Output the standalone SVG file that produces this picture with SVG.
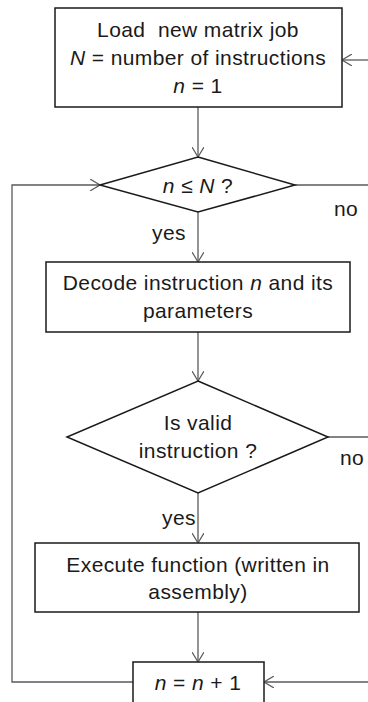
<svg xmlns="http://www.w3.org/2000/svg" width="368" height="702" viewBox="0 0 368 702">
  <style>
    .box { fill: #ffffff; stroke: #1a1a1a; stroke-width: 1.5; }
    .edge { fill: none; stroke: #5a5a5a; stroke-width: 1.3; }
    text { font-family: "Liberation Sans", Arial, sans-serif; font-size: 21px; fill: #1a1a1a; text-anchor: middle; letter-spacing: 0.4px; }
    .lbl { text-anchor: start; }
  </style>
  <defs>
    <!-- open V arrowhead, 10 long by 12 wide -->
    <marker id="arrow" viewBox="0 0 10 12" refX="10" refY="6" markerWidth="10" markerHeight="12" markerUnits="userSpaceOnUse" orient="auto">
      <path d="M0,0 L10,6 L0,12" fill="none" stroke="#5a5a5a" stroke-width="1.2"/>
    </marker>
  </defs>
  <rect width="368" height="702" fill="#ffffff"/>

  <g id="connectors">
    <path class="edge" d="M198,107 V157" marker-end="url(#arrow)"/>
    <path class="edge" d="M198,212 V262" marker-end="url(#arrow)"/>
    <path class="edge" d="M198,332 V381" marker-end="url(#arrow)"/>
    <path class="edge" d="M198,493 V543" marker-end="url(#arrow)"/>
    <path class="edge" d="M198,612 V662" marker-end="url(#arrow)"/>
    <path class="edge" d="M295,185 H368"/>
    <path class="edge" d="M328,437 H368"/>
    <path class="edge" d="M368,60 H342" marker-end="url(#arrow)"/>
    <path class="edge" d="M368,682 H264" marker-end="url(#arrow)"/>
    <path class="edge" d="M133,682 H12 V185 H100" marker-end="url(#arrow)"/>
    <text class="lbl" x="152" y="240">yes</text>
    <text class="lbl" x="334" y="216">no</text>
    <text class="lbl" x="340" y="465">no</text>
    <text class="lbl" x="162" y="525">yes</text>
  </g>

  <g id="load-job">
    <rect class="box" x="55" y="8" width="287" height="99"/>
    <text x="198" y="37">Load&#160; new matrix job</text>
    <text x="198" y="65"><tspan font-style="italic">N</tspan> = number of instructions</text>
    <text x="198" y="93"><tspan font-style="italic">n</tspan> = 1</text>
  </g>

  <g id="check-count">
    <polygon class="box" points="198,157 295,185 198,212 100,185"/>
    <text x="198" y="193"><tspan font-style="italic">n</tspan> ≤ <tspan font-style="italic">N</tspan> ?</text>
  </g>

  <g id="decode">
    <rect class="box" x="46" y="262" width="304" height="70"/>
    <text x="198" y="290">Decode instruction <tspan font-style="italic">n</tspan> and its</text>
    <text x="198" y="318">parameters</text>
  </g>

  <g id="check-valid">
    <polygon class="box" points="198,381 328,437 198,493 67,437"/>
    <text x="198" y="430">Is valid</text>
    <text x="198" y="458">instruction ?</text>
  </g>

  <g id="execute">
    <rect class="box" x="35" y="543" width="324" height="69"/>
    <text x="198" y="572">Execute function (written in</text>
    <text x="198" y="599">assembly)</text>
  </g>

  <g id="increment">
    <rect class="box" x="133" y="662" width="131" height="50"/>
    <text x="198" y="690"><tspan font-style="italic">n</tspan> = <tspan font-style="italic">n</tspan> + 1</text>
  </g>
</svg>
